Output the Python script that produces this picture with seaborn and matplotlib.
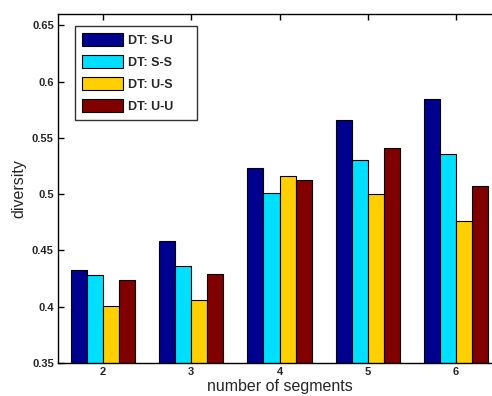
import pandas as pd
import seaborn as sns
import matplotlib.pyplot as plt

segments = ["2", "3", "4", "5", "6"]
methods = ["DT: S-U", "DT: S-S", "DT: U-S", "DT: U-U"]
su = [0.433, 0.458, 0.523, 0.566, 0.585]
ss = [0.428, 0.436, 0.501, 0.530, 0.536]
us = [0.401, 0.406, 0.516, 0.500, 0.476]
uu = [0.424, 0.429, 0.513, 0.541, 0.507]
colors = ["#00008F", "#00DFFF", "#FFCF00", "#800000"]

rows = []
for m, vals in zip(methods, [su, ss, us, uu]):
    for s, v in zip(segments, vals):
        rows.append({"segments": s, "method": m, "diversity": v})
df = pd.DataFrame(rows)

sns.set_style("ticks")
plt.rcParams["font.family"] = ["Liberation Sans", "DejaVu Sans"]

fig = plt.figure(figsize=(4.92, 3.96), dpi=100)
# axes runs past the right edge, like the cropped original
ax = fig.add_axes([0.1179, 0.0833, 0.9004, 0.881])

sns.barplot(
    data=df,
    x="segments",
    y="diversity",
    hue="method",
    hue_order=methods,
    palette=colors,
    saturation=1,
    width=0.73,
    gap=0,
    edgecolor="black",
    linewidth=0.8,
    ax=ax,
)

ax.set_ylim(0.35, 0.66)
ax.set_xlim(-0.51, 4.51)
ax.set_yticks([0.35, 0.4, 0.45, 0.5, 0.55, 0.6, 0.65])
ax.set_yticklabels(["0.35", "0.4", "0.45", "0.5", "0.55", "0.6", "0.65"])
for lbl in ax.get_xticklabels() + ax.get_yticklabels():
    lbl.set_fontweight("bold")
    lbl.set_fontsize(8)
ax.tick_params(direction="in", length=4, width=1, top=True, right=True,
               color="black", pad=3)
for sp in ax.spines.values():
    sp.set_visible(True)
    sp.set_color("black")
    sp.set_linewidth(1)

ax.set_xlabel("number of segments", fontsize=11.5, labelpad=1.5)
ax.set_ylabel("diversity", fontsize=11.5, labelpad=4)

leg = ax.legend(
    loc="upper left",
    bbox_to_anchor=(0.038, 0.5, 0.275, 0.466),
    mode="expand",
    borderaxespad=0,
    prop={"weight": "bold", "size": 9},
    frameon=True,
    fancybox=False,
    edgecolor="black",
    handlelength=3.3,
    handleheight=1.3,
    labelspacing=0.64,
    handletextpad=0.4,
    borderpad=0.55,
    title=None,
)
leg.get_frame().set_linewidth(1)

fig.savefig("out.png", dpi=100)
